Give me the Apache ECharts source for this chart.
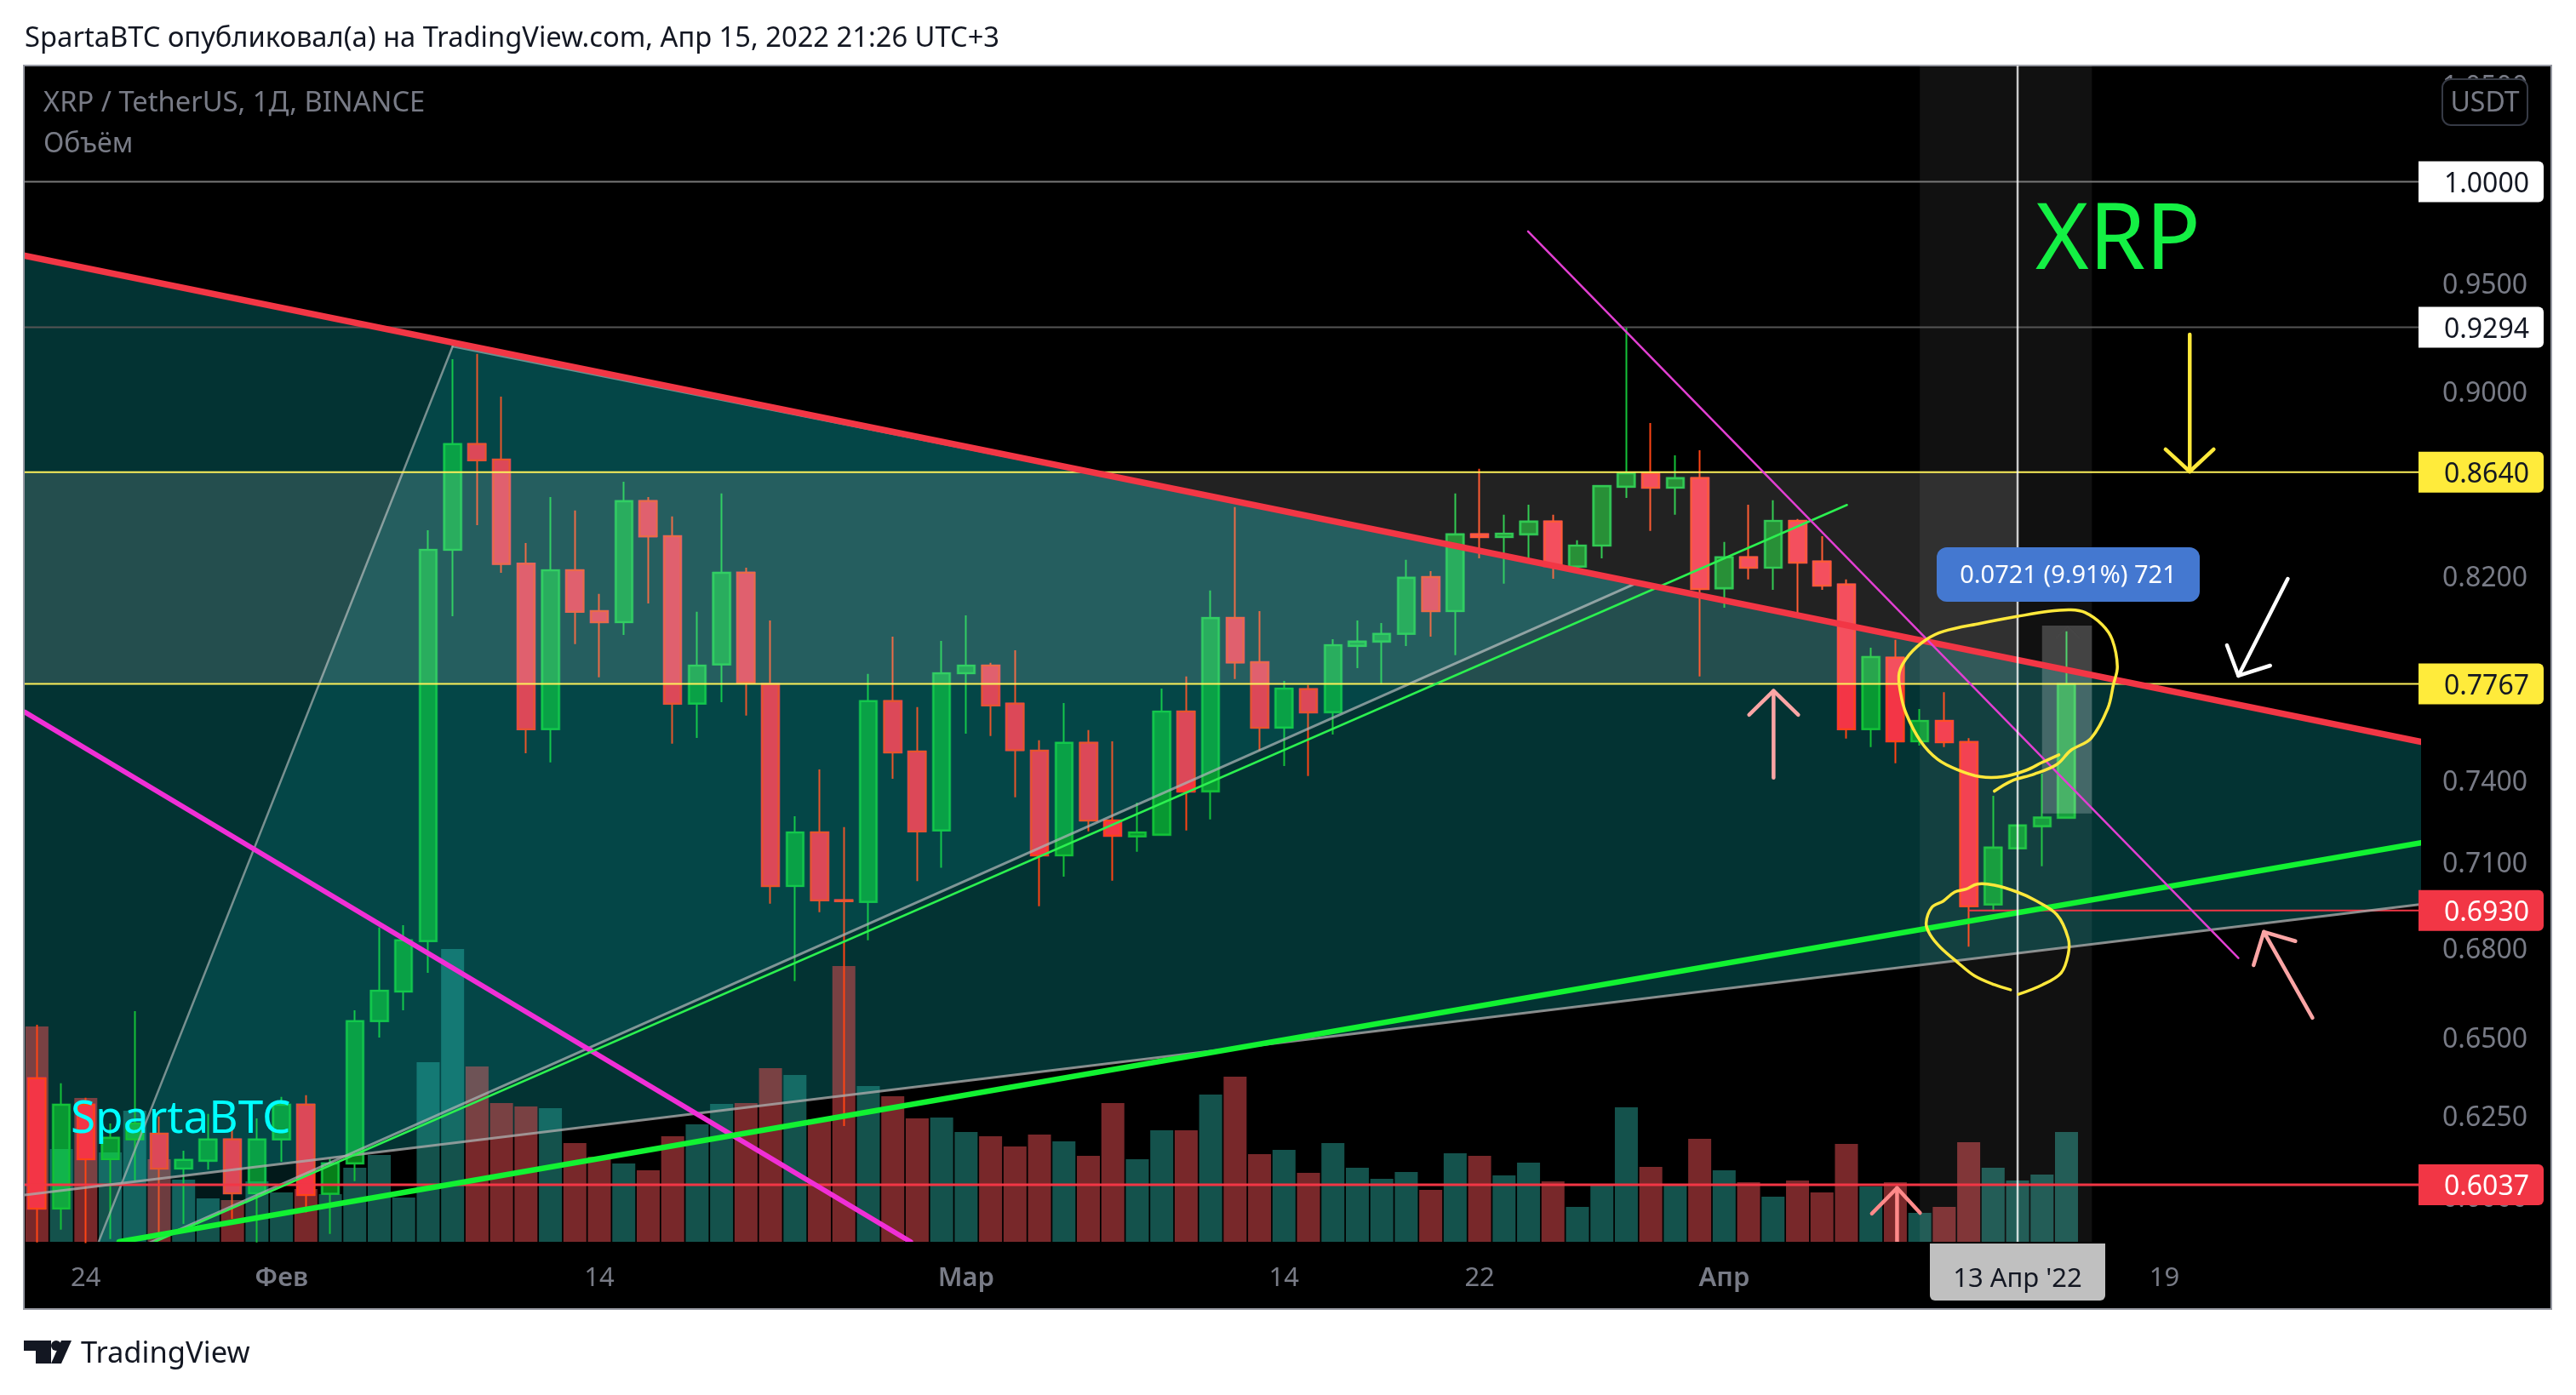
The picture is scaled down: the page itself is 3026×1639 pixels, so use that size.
<!DOCTYPE html>
<html><head><meta charset="utf-8">
<style>html,body{margin:0;padding:0;background:#fff}#c{width:3026px;height:1639px}</style>
<script src="https://cdn.jsdelivr.net/npm/echarts@6/dist/echarts.min.js"></script>
</head><body><div id="c"></div>
<script>
// ---------- data ----------
const candleOpen=[.6369,.5965,.6285,.6115,.6176,.6194,.6086,.6110,.6176,.6011,.6176,.6285,.6009,.6102,.6555,.6653,.6824,.8309,.8763,.8695,.8251,.7592,.8224,.8057,.8012,.8515,.8366,.7690,.7843,.8214,.7766,.7016,.7208,.6966,.6960,.7700,.7507,.7215,.7809,.7839,.7690,.7510,.7125,.7540,.7251,.7193,.7199,.7660,.7358,.8029,.7852,.7598,.7746,.7657,.7917,.7934,.7965,.8196,.8057,.8374,.8363,.8374,.8428,.8239,.8327,.8577,.8636,.8573,.8614,.8150,.8278,.8235,.8431,.8260,.8165,.7592,.7870,.7546,.7624,.7543,.6951,.7150,.7230,.7261];
const candleClose=[.5965,.6285,.6115,.6181,.6226,.6086,.6113,.6176,.6011,.6176,.6285,.6006,.6102,.6555,.6656,.6827,.8309,.8763,.8692,.8251,.7592,.8224,.8054,.8012,.8515,.8366,.7690,.7839,.8214,.7773,.7016,.7208,.6966,.6963,.7700,.7504,.7212,.7809,.7839,.7684,.7513,.7125,.7540,.7251,.7196,.7208,.7660,.7358,.8029,.7852,.7598,.7749,.7657,.7920,.7934,.7965,.8193,.8057,.8374,.8363,.8377,.8428,.8242,.8327,.8580,.8636,.8573,.8614,.8147,.8278,.8235,.8431,.8256,.8161,.7592,.7873,.7546,.7624,.7543,.6945,.7153,.7233,.7262,.7766];
const candleLow=[.5864,.5902,.5862,.5874,.6050,.5894,.5919,.6083,.5934,.5864,.6107,.5953,.5889,.6048,.6501,.6591,.6716,.8036,.8413,.8214,.7501,.7466,.7924,.7793,.7961,.8088,.7537,.7559,.7696,.7644,.6954,.6688,.6924,.6218,.6827,.7405,.7033,.7081,.7575,.7566,.7336,.6945,.7049,.7212,.7035,.7138,.7199,.7215,.7255,.7786,.7510,.7453,.7415,.7572,.7829,.7769,.7917,.7954,.7880,.8274,.8169,.8274,.8189,.8224,.8274,.8529,.8389,.8457,.7796,.8071,.8186,.8144,.8050,.8144,.7556,.7524,.7463,.7530,.7524,.6805,.6927,.7150,.7086,.7261];
const candleHigh=[.6543,.6353,.6307,.6226,.6588,.6248,.6141,.6256,.6234,.6242,.6310,.6315,.6115,.6591,.6871,.6879,.8391,.9146,.9170,.8975,.8338,.8533,.8475,.8127,.8599,.8533,.8450,.8054,.8548,.8235,.8019,.7267,.7440,.7227,.7806,.7954,.7677,.7937,.8040,.7850,.7900,.7550,.7693,.7589,.7546,.7317,.7749,.7796,.8141,.8490,.8057,.7779,.7763,.7944,.8019,.8009,.8267,.8221,.8548,.8655,.8457,.8500,.8457,.8349,.8580,.9294,.8857,.8714,.8736,.8342,.8500,.8519,.8439,.8366,.8186,.7910,.7941,.7670,.7735,.7558,.7342,.7233,.7424,.7975];
const volumes=[253,109,169,105,154,97,73,51,49,71,58,62,56,87,102,52,211,344,206,163,159,157,116,100,92,84,124,138,162,163,204,196,144,324,183,171,145,146,129,124,112,126,118,101,163,97,131,131,173,194,103,108,81,116,87,74,82,61,104,101,78,93,71,41,66,158,88,66,121,84,70,53,72,58,115,65,70,34,41,117,87,72,79,129];
const tickPrices=[1.05,0.95,0.9,0.82,0.74,0.71,0.68,0.65,0.625,0.6];
const timeTicks={'2022-01-24':'24','2022-02-01':'Фев','2022-02-14':'14','2022-03-01':'Мар','2022-03-14':'14','2022-03-22':'22','2022-04-01':'Апр','2022-04-19':'19'};
const monthTicks=['Фев','Мар','Апр'];
const priceTags=[[1.0,'#ffffff','#131722'],[0.9294,'#ffffff','#131722'],[0.8640,'#ffeb3b','#131722'],[0.7767,'#ffeb3b','#131722'],[0.6930,'#f23645','#ffffff'],[0.6037,'#f23645','#ffffff']];
const priceMin=0.5866, priceMax=1.0602, dayCount=98, volMax=1382;
// drawings, as [day index, price]
const resistance=[[-0.5,.9635],[97.5,.7544]];
const lowerChannel=[[-0.5,.6006],[97.5,.6952]];
const thickSupport=[[3.36,.5866],[97.5,.7170]];
const thickFall=[[-0.5,.7658],[35.73,.5866]];
const thinFall=[[60.98,.9753],[90.03,.6766]];
const thinRise=[[4.82,.5866],[74.02,.8499]];
const triangle=[[17.0,.9205],[65.49,.8175],[2.06,.5782]];
const zoneBand=[-0.5,81,.8640,.7767];
const focusBand=[77,84.04,priceMax,priceMin];
const measureBox=[82,84.04,.7998,.7277];
const measureChevron=[[82.58,.7948],[83.04,.7995],[83.52,.7948]];
const crosshairDay=81;
const scribbleTop=[[80.05,.7359],[80.75,.7397],[81.67,.7422],[82.6,.7458],[83.18,.7512],[84,.7557],[84.69,.7672],[84.92,.7765],[85.08,.7835],[84.87,.7942],[84.46,.8002],[83.76,.8051],[83.18,.8062],[82.26,.8056],[80.98,.8035],[79.47,.8007],[77.96,.7975],[77.26,.7942],[76.57,.7882],[76.16,.7811],[76.22,.7729],[76.45,.7650],[77.03,.7547],[77.73,.7478],[78.54,.7439],[79.47,.7413],[80.4,.7413],[81.33,.7436],[82.02,.7467],[82.69,.7495]];
const scribbleLow=[[80.71,.6659],[80.05,.6676],[79.24,.6706],[78.54,.6752],[77.84,.6803],[77.44,.6844],[77.26,.6885],[77.5,.6942],[77.96,.6963],[78.43,.6995],[78.89,.7005],[79.35,.7023],[80.05,.7019],[80.98,.6995],[81.67,.6968],[82.6,.6916],[83.07,.6834],[83.07,.6779],[82.78,.6716],[82.02,.6676],[81.04,.6644]];
const arrows=[
 {c:'#ffe93b',s:[[88.04,.9260],[88.04,.8643]],h:[[87.05,.8740],[88.04,.8643],[89.02,.8740]]},
 {c:'#ffffff',s:[[92.05,.8189],[90.03,.7799]],h:[[89.56,.7920],[90.03,.7799],[91.33,.7839]]},
 {c:'#fba5a5',s:[[71.02,.7409],[71.02,.7740]],h:[[70.02,.7647],[71.02,.7740],[72.03,.7647]]},
 {c:'#fba5a5',s:[[93.06,.6566],[91.07,.6856]],h:[[90.65,.6742],[91.07,.6856],[92.36,.6824]]},
 {c:'#ff8a8a',s:[[76.07,.5864],[76.07,.6027]],h:[[75.04,.5950],[76.07,.6027],[77.01,.5952]]}
];
// ---------- page layout ----------
const font='"Noto Sans", sans-serif';
const gridLeft=29,gridTop=77,gridW=2815,gridH=1382;
const categories=[];
for(let i=0;i<dayCount;i++){categories.push(new Date(Date.UTC(2022,0,22+i)).toISOString().slice(0,10));}
const isUp=i=>candleClose[i]>=candleOpen[i];
const candleData=candleOpen.map((o,i)=>[o,candleClose[i],candleLow[i],candleHigh[i]]);
const volData=volumes.map((v,i)=>({value:v,itemStyle:{color:isUp(i)?'rgba(40,164,152,.5)':'rgba(240,80,84,.5)'}}));

function layer(name,z,draw,clip){
  return {name,type:'custom',xAxisIndex:1,yAxisIndex:0,z,clip:clip!==false,silent:true,
    data:[[0,1]],encode:{x:0,y:1},
    renderItem:(p,api)=>({type:'group',children:draw(api)})};
}
const P=(api,pts)=>pts.map(q=>api.coord(q));
const line=(api,pts,stroke,w,smooth)=>({type:'polyline',shape:{points:P(api,pts),smooth:smooth||0},style:{stroke,lineWidth:w,fill:null,lineCap:'round',lineJoin:'round'}});
const poly=(api,pts,fill)=>({type:'polygon',shape:{points:P(api,pts)},style:{fill}});
const boxPts=b=>[[b[0],b[2]],[b[1],b[2]],[b[1],b[3]],[b[0],b[3]]];
const hline=(api,price,stroke,w,from)=>line(api,[[from===undefined?-0.5:from,price],[97.5,price]],stroke,w);

const series=[
 layer('channelFill',1,api=>[poly(api,[resistance[0],resistance[1],lowerChannel[1],lowerChannel[0]],'#033333')]),
 {name:'Объём',type:'bar',xAxisIndex:0,yAxisIndex:1,z:2,barWidth:27,data:volData,silent:true},
 {name:'XRP / TetherUS',type:'candlestick',xAxisIndex:0,yAxisIndex:0,z:3,barWidth:20,data:candleData,silent:true,
  itemStyle:{color:'rgba(14,254,50,.5)',color0:'#f33546',borderColor:'#14c238',borderColor0:'#ff4414',borderWidth:2}},
 {name:'bodyEdge',type:'custom',xAxisIndex:0,yAxisIndex:0,z:3,silent:true,clip:true,
  data:candleOpen.map((o,i)=>[i,o,candleClose[i]]),encode:{x:0,y:[1,2]},
  renderItem:(p,api)=>{const i=api.value(0),a=api.coord([i,api.value(1)]),b=api.coord([i,api.value(2)]);
    const up=api.value(2)>=api.value(1);
    return {type:'rect',shape:{x:Math.round(a[0])-10,y:Math.min(a[1],b[1]),width:20,height:Math.abs(a[1]-b[1])},
      style:{fill:null,stroke:up?'#08853a':'#e02a62',lineWidth:2.6}};}},
 layer('triangleFill',4,api=>[
   poly(api,triangle,'rgba(20,250,255,.1)'),
   line(api,[triangle[0],triangle[1]],'rgba(150,180,180,.7)',2.5),
   line(api,[triangle[1],triangle[2]],'rgba(170,180,180,.75)',3),
   line(api,[triangle[2],triangle[0]],'rgba(170,180,180,.7)',2.5)]),
 layer('bands',4,api=>[
   poly(api,boxPts(zoneBand),'rgba(255,255,255,.133)'),
   poly(api,boxPts(focusBand),'rgba(255,255,255,.067)'),
   poly(api,boxPts(measureBox),'rgba(255,255,255,.21)'),
   line(api,measureChevron,'rgba(70,70,70,.9)',2)]),
 layer('levels',5,api=>[
   hline(api,1.0,'#787878',2),hline(api,0.9294,'#555555',2),
   hline(api,0.8640,'#fdf05a',2),hline(api,0.7767,'#fdf05a',2),
   hline(api,0.6930,'#f23645',2,79),hline(api,0.6037,'#f23645',3)]),
 layer('trends',5,api=>[
   line(api,lowerChannel,'rgba(170,170,170,.8)',3),
   line(api,thickFall,'#f02fd6',6),
   line(api,thinRise,'#2cf050',2.5),
   line(api,thickSupport,'#12f232',6.5),
   line(api,resistance,'#f23645',7.5),
   line(api,thinFall,'#e23fd2',2.5)]),
 layer('crosshair',6,api=>[line(api,[[crosshairDay,priceMax],[crosshairDay,priceMin]],'rgba(255,255,255,.78)',2.5)]),
 layer('scribbles',7,api=>[
   line(api,scribbleTop,'#ffe83b',3.5,0.35),line(api,scribbleLow,'#ffe83b',3.5,0.35),
   ...arrows.flatMap(a=>[line(api,a.s,a.c,4.5),line(api,a.h,a.c,4.5)])]),
 layer('priceTags',20,api=>priceTags.map(t=>{
   const y=api.coord([0,t[0]])[1];
   return {type:'group',children:[
     {type:'rect',shape:{x:2841,y:y-24,width:147,height:48,r:[0,6,6,0]},style:{fill:t[1]}},
     {type:'text',style:{text:t[0].toFixed(4),x:2971,y:y+3,fill:t[2],font:'32px '+font,align:'right',verticalAlign:'middle'}}]};
 }),false),
];

const chart=echarts.init(document.getElementById('c'),null,{renderer:'canvas',width:3026,height:1639});
chart.setOption({
 animation:false,backgroundColor:'#ffffff',
 grid:{left:gridLeft,top:gridTop,width:gridW,height:gridH,containLabel:false},
 xAxis:[
  {type:'category',data:categories,axisLine:{show:false},axisTick:{show:false},splitLine:{show:false},
   axisLabel:{interval:(i,v)=>v in timeTicks,
     formatter:v=>{const t=timeTicks[v]||'';return monthTicks.includes(t)?'{m|'+t+'}':t;},
     rich:{m:{color:'#787b86',fontFamily:font,fontSize:31,fontWeight:600}},
     color:'#787b86',fontFamily:font,fontSize:31,margin:28,hideOverlap:false}},
  {type:'value',min:-0.5,max:dayCount-0.5,show:false}
 ],
 yAxis:[
  {type:'log',logBase:10,min:priceMin,max:priceMax,position:'right',axisLine:{show:false},axisTick:{show:false},splitLine:{show:false},
   axisLabel:{customValues:tickPrices,formatter:v=>Number(v).toFixed(4),color:'#787b86',fontFamily:font,fontSize:32,margin:25,verticalAlign:'top',lineHeight:6}},
  {type:'value',min:0,max:volMax,show:false,position:'left'}
 ],
 series,
 graphic:{elements:[
  {type:'rect',z:-10,shape:{x:28,y:77,width:2969,height:1461},style:{fill:'#000',stroke:'#9598a1',lineWidth:2}},
  {type:'text',z:1,style:{text:'SpartaBTC опубликовал(а) на TradingView.com, Апр 15, 2022 21:26 UTC+3',x:29,y:46,fill:'#131722',font:'32.7px '+font,verticalAlign:'middle'}},
  {type:'text',z:30,style:{text:'XRP / TetherUS, 1Д, BINANCE',x:51,y:122,fill:'#787b86',font:'32.7px '+font,verticalAlign:'middle'}},
  {type:'text',z:30,style:{text:'Объём',x:51,y:170,fill:'#787b86',font:'32px '+font,verticalAlign:'middle'}},
  {type:'rect',z:30,shape:{x:2869,y:93,width:100,height:54,r:10},style:{fill:'#000',stroke:'#363a45',lineWidth:2}},
  {type:'text',z:31,style:{text:'USDT',x:2919,y:122,fill:'#787b86',font:'32px '+font,align:'center',verticalAlign:'middle'}},
  {type:'text',z:30,style:{text:'XRP',x:2391,y:286,fill:'#14f044',font:'107px '+font,verticalAlign:'middle'}},
  {type:'text',z:30,style:{text:'SpartaBTC',x:83,y:1316,fill:'#00ffff',font:'53px '+font,verticalAlign:'middle'}},
  {type:'rect',z:30,shape:{x:2275,y:643,width:309,height:64,r:12},style:{fill:'#4478d0'}},
  {type:'text',z:31,style:{text:'0.0721 (9.91%) 721',x:2429.5,y:677,fill:'#ffffff',font:'29px '+font,align:'center',verticalAlign:'middle'}},
  {type:'rect',z:30,shape:{x:2267,y:1461,width:206,height:67,r:[0,0,6,6]},style:{fill:'#c0c0c0'}},
  {type:'text',z:31,style:{text:"13 Апр '22",x:2370,y:1503,fill:'#131722',font:'31px '+font,align:'center',verticalAlign:'middle'}},
  {type:'text',z:1,style:{text:'TradingView',x:95,y:1591,fill:'#131722',font:'34.5px '+font,verticalAlign:'middle'}},
  {type:'polygon',z:1,shape:{points:[[28,1575],[60,1575],[60,1602],[42,1602],[42,1587],[28,1587]]},style:{fill:'#131722'}},
  {type:'circle',z:1,shape:{cx:66,cy:1581,r:6},style:{fill:'#131722'}},
  {type:'polygon',z:1,shape:{points:[[72,1575],[84,1575],[72,1602],[60,1602]]},style:{fill:'#131722'}}
 ]}
});
</script></body></html>
